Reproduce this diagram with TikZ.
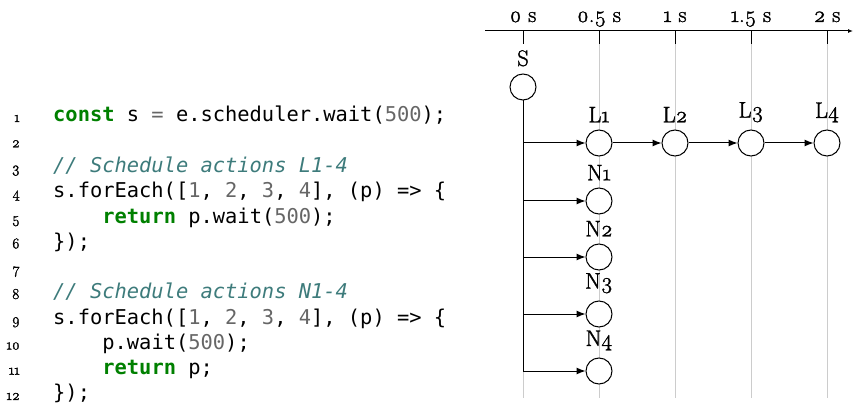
\documentclass[tikz,border=0pt]{standalone}
\usepackage{fontspec}
\usetikzlibrary{arrows.meta}
\newfontfamily\codefont{DejaVu Sans Mono}
\newfontfamily\lblfam{Latin Modern Roman}[Numbers=OldStyle, FakeBold=1.5]
\newfontfamily\lnfam{Latin Modern Roman}[Numbers=OldStyle, FakeBold=2]
\definecolor{kwgreen}{HTML}{008000}
\definecolor{numgray}{HTML}{666666}
\definecolor{cmtteal}{HTML}{3D7B7B}
\definecolor{gridgray}{HTML}{CCCCCC}
\newcommand\cdkw[1]{{\color{kwgreen}\bfseries #1}}
\newcommand\cdnum[1]{{\color{numgray}#1}}
\newcommand\cdcm[1]{{\color{cmtteal}\itshape #1}}
\newcommand\cdop[1]{{\color{numgray}#1}}
\newcommand\lblfont{\lblfam\fontsize{22.5}{22.5}\selectfont}
\newcommand\lnfont{\lnfam\fontsize{15}{15}\selectfont}
\tikzset{
  codeline/.style={anchor=base west, inner sep=0pt, font=\codefont\fontsize{20.4}{20.4}\selectfont},
  lineno/.style={anchor=base east, inner sep=0pt, font=\lnfont},
  ticklbl/.style={anchor=base, inner sep=0pt, font=\lblfont},
  evlbl/.style={inner sep=0pt, font=\lblfont, label distance=7pt},
  ev/.style={circle, draw, fill=white, minimum size=26pt, inner sep=0pt, line width=1pt},
  arr/.style={-{Latex[length=9pt,width=7pt]}, line width=1pt},
  gridline/.style={draw=gridgray, line width=1pt},
  tickmark/.style={draw=black, line width=1pt},
}
\begin{document}
\begin{tikzpicture}[x=1pt,y=-1pt]
\useasboundingbox (0,0) rectangle (854,406);
% ---------- code ----------
\foreach \i in {1,...,12}{
  \node[lineno] (n\i) at (20,{122+(\i-1)*25.27}) {\i};
}
\node[codeline] (c1) at (53,122) {\cdkw{const} s \cdop{=} e.scheduler.wait(\cdnum{500});};
\node[codeline] (c3) at (53,172.54) {\cdcm{// Schedule actions L1-4}};
\node[codeline] (c4) at (53,197.81) {s.forEach([\cdnum{1}, \cdnum{2}, \cdnum{3}, \cdnum{4}], (p) => \{};
\node[codeline] (c5) at (102.2,223.08) {\cdkw{return} p.wait(\cdnum{500});};
\node[codeline] (c6) at (53,248.35) {\});};
\node[codeline] (c8) at (53,298.89) {\cdcm{// Schedule actions N1-4}};
\node[codeline] (c9) at (53,324.16) {s.forEach([\cdnum{1}, \cdnum{2}, \cdnum{3}, \cdnum{4}], (p) => \{};
\node[codeline] (c10) at (102.2,349.43) {p.wait(\cdnum{500});};
\node[codeline] (c11) at (102.2,374.7) {\cdkw{return} p;};
\node[codeline] (c12) at (53,399.97) {\});};
% ---------- timeline ----------
\coordinate (axL) at (485,31);
\coordinate (axR) at (853,31);
\foreach \x in {599,675,751,827}{
  \draw[gridline] (\x,44) -- (\x,398);
}
\draw[gridline] (523,371) -- (523,398);
\draw[line width=1pt,-{Latex[length=5pt,width=4pt]}] (axL) -- (axR);
\foreach \k/\x/\t in {0/523/{0 s},1/599/{0.5 s},2/675/{1 s},3/751/{1.5 s},4/827/{2 s}}{
  \draw[tickmark] (\x,31) -- (\x,44);
  \node[ticklbl] (t\k) at (\x,22) {\t};
}
% events
\node[ev, label={[evlbl]above:S}] (S) at (523,87) {};
\node[ev, label={[evlbl]above:L1}] (L1) at (599,143) {};
\node[ev, label={[evlbl]above:L2}] (L2) at (675,143) {};
\node[ev, label={[evlbl]above:L3}] (L3) at (751,143) {};
\node[ev, label={[evlbl]above:L4}] (L4) at (827,143) {};
\node[ev, label={[evlbl]above:N1}] (N1) at (599,201) {};
\node[ev, label={[evlbl]above:N2}] (N2) at (599,257) {};
\node[ev, label={[evlbl]above:N3}] (N3) at (599,314) {};
\node[ev, label={[evlbl]above:N4}] (N4) at (599,371) {};
% connectors
\draw[line width=1pt] (S.south) -- (S.south |- N4.west);
\draw[arr] (S.south |- L1.west) -- (L1.west);
\draw[arr] (L1.east) -- (L2.west);
\draw[arr] (L2.east) -- (L3.west);
\draw[arr] (L3.east) -- (L4.west);
\draw[arr] (S.south |- N1.west) -- (N1.west);
\draw[arr] (S.south |- N2.west) -- (N2.west);
\draw[arr] (S.south |- N3.west) -- (N3.west);
\draw[arr] (S.south |- N4.west) -- (N4.west);
\end{tikzpicture}
\end{document}
